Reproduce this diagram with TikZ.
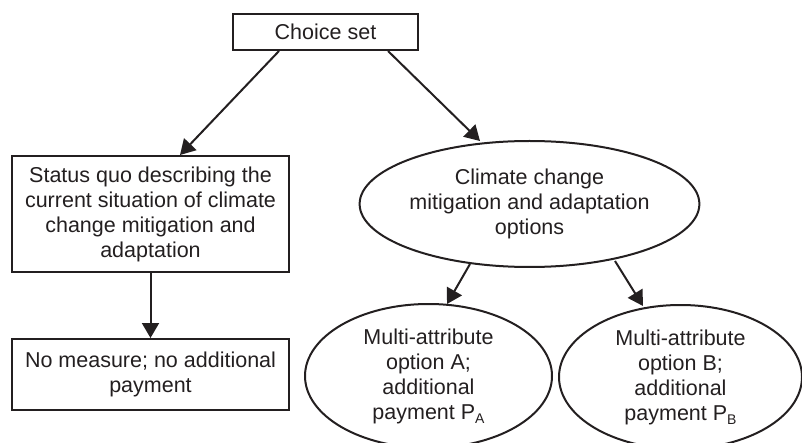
\documentclass[tikz,border=0pt]{standalone}
\usepackage{fontspec}
\setmainfont{Liberation Sans}
\usetikzlibrary{arrows.meta,shapes.geometric}
\definecolor{ink}{RGB}{35,31,32}
\newcommand{\subA}[1]{\raisebox{-4pt}{\fontsize{14}{14}\selectfont #1}}
\begin{document}
\begin{tikzpicture}[x=1pt,y=-1pt,
  every node/.style={font=\fontsize{21.5}{25}\selectfont, align=center, inner sep=0pt, text=ink},
  boxnode/.style={draw=ink, line width=2pt, rectangle},
  ellnode/.style={draw=ink, line width=2pt, ellipse},
  conn/.style={draw=ink, line width=2pt, -{Triangle[length=15pt,width=17pt]}}]
\useasboundingbox (0,0) rectangle (802,443);
\node[boxnode, minimum width=185pt, minimum height=36pt] (choice) at (325.5,32) {Choice set};
\node[boxnode, minimum width=277pt, minimum height=116pt] (status) at (150.5,214) {Status quo describing the\\current situation of climate\\change mitigation and\\adaptation};
\node[boxnode, minimum width=277pt, minimum height=71pt] (nomeas) at (150.5,374.5) {No measure; no additional\\payment};
\node[ellnode, minimum width=335pt, minimum height=126pt] (climate) at (529.5,204) {Climate change\\mitigation and adaptation\\options};
\node[ellnode, minimum width=247pt, minimum height=144pt] (optA) at (428.5,376) {Multi-attribute\\option A;\\additional\\payment P\subA{A}};
\node[ellnode, minimum width=243pt, minimum height=144pt] (optB) at (680.5,377) {Multi-attribute\\option B;\\additional\\payment P\subA{B}};
\draw[conn] (choice.south -| 279,0) -- (180,155);
\draw[conn] (choice.south -| 388,0) -- (480,141);
\draw[conn] (status.south) -- (nomeas.north);
\draw[conn] (470,264) -- (447,304);
\draw[conn] (615,261) -- (643,306);
\end{tikzpicture}
\end{document}
